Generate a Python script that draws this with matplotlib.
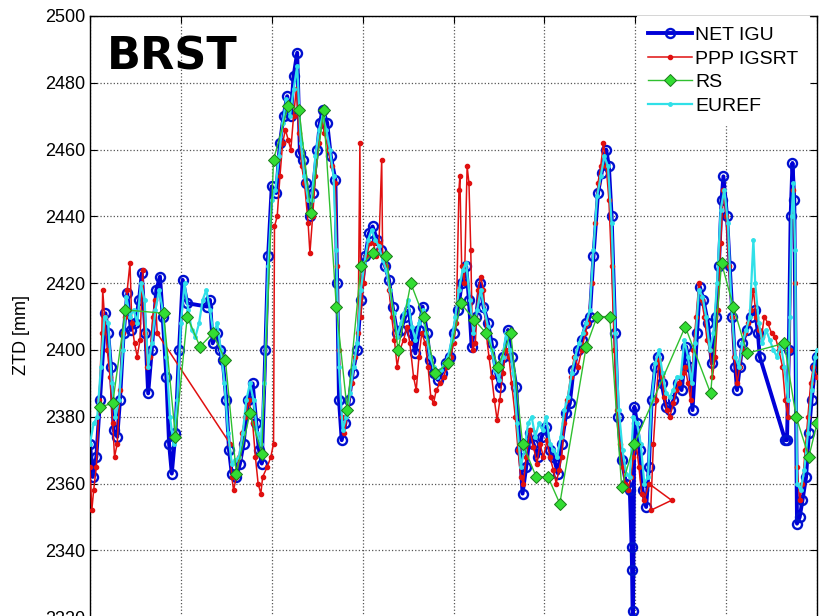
import matplotlib
matplotlib.use("Agg")
import matplotlib.pyplot as plt
import numpy as np

# time in days (x axis), ZTD in mm
net_t = [0.00, 0.03, 0.07, 0.11, 0.17, 0.20, 0.23, 0.26, 0.30, 0.33, 0.37, 0.41, 0.45, 0.50, 0.54,
         0.57, 0.61, 0.64, 0.68, 0.73, 0.77, 0.80, 0.84, 0.87, 0.90, 0.94, 0.98, 1.02, 1.07, 1.29,
         1.32, 1.35, 1.40, 1.43, 1.46, 1.50, 1.53, 1.56, 1.61, 1.65, 1.69, 1.74, 1.79, 1.83, 1.86,
         1.89, 1.93, 1.96, 2.00, 2.05, 2.09, 2.13, 2.17, 2.21, 2.24, 2.28, 2.31, 2.34, 2.38, 2.42,
         2.45, 2.50, 2.53, 2.56, 2.61, 2.65, 2.70, 2.72, 2.74, 2.77, 2.81, 2.85, 2.89, 2.94, 2.98,
         3.03, 3.07, 3.11, 3.16, 3.20, 3.25, 3.29, 3.33, 3.38, 3.42, 3.47, 3.51, 3.54, 3.58, 3.62,
         3.66, 3.71, 3.74, 3.78, 3.83, 3.87, 3.92, 3.96, 4.00, 4.05, 4.09, 4.14, 4.17, 4.20, 4.25,
         4.29, 4.33, 4.38, 4.42, 4.47, 4.51, 4.55, 4.60, 4.64, 4.69, 4.73, 4.76, 4.80, 4.84, 4.88,
         4.93, 4.97, 5.02, 5.06, 5.10, 5.15, 5.19, 5.24, 5.28, 5.32, 5.37, 5.41, 5.46, 5.50, 5.54,
         5.59, 5.63, 5.68, 5.71, 5.74, 5.78, 5.81, 5.85, 5.90, 5.94, 5.96, 5.965, 5.97, 5.975, 5.99,
         6.02, 6.05, 6.08, 6.12, 6.15, 6.18, 6.22, 6.25, 6.29, 6.34, 6.38, 6.42, 6.47, 6.51, 6.56,
         6.60, 6.63, 6.68, 6.71, 6.75, 6.80, 6.84, 6.89, 6.92, 6.95, 6.97, 7.01, 7.04, 7.07, 7.10,
         7.12, 7.15, 7.18, 7.23, 7.27, 7.32, 7.35, 7.37, 7.65, 7.67, 7.69, 7.71, 7.73, 7.75, 7.78,
         7.81, 7.84, 7.88, 7.91, 7.94, 7.98, 8.00]
net_ztd = [2372, 2362, 2368, 2385, 2411, 2405, 2395, 2376, 2374, 2385, 2405, 2417, 2406, 2408, 2415,
           2423, 2405, 2387, 2400, 2418, 2422, 2410, 2392, 2372, 2363, 2375, 2400, 2421, 2414, 2413,
           2415, 2402, 2405, 2400, 2397, 2385, 2370, 2363, 2362, 2366, 2372, 2385, 2390, 2378, 2370,
           2366, 2400, 2428, 2449, 2447, 2462, 2470, 2476, 2470, 2482, 2489, 2459, 2457, 2450, 2440,
           2447, 2460, 2468, 2472, 2468, 2458, 2451, 2420, 2385, 2373, 2378, 2385, 2393, 2400, 2415,
           2428, 2435, 2437, 2433, 2430, 2425, 2421, 2413, 2405, 2406, 2410, 2412, 2405, 2399, 2406,
           2413, 2405, 2397, 2393, 2391, 2393, 2396, 2398, 2405, 2412, 2420, 2425, 2415, 2401, 2410,
           2420, 2413, 2408, 2402, 2393, 2389, 2398, 2406, 2398, 2389, 2370, 2357, 2365, 2375, 2372,
           2368, 2374, 2377, 2370, 2368, 2363, 2372, 2381, 2384, 2394, 2400, 2403, 2408, 2410, 2428,
           2447, 2453, 2460, 2455, 2440, 2405, 2380, 2367, 2360, 2358, 2341, 2334, 2322, 2316, 2383,
           2378, 2370, 2358, 2353, 2365, 2385, 2395, 2398, 2390, 2383, 2382, 2385, 2390, 2388, 2401,
           2395, 2382, 2405, 2419, 2415, 2408, 2396, 2410, 2425, 2445, 2452, 2440, 2425, 2410, 2395,
           2388, 2395, 2402, 2406, 2410, 2412, 2405, 2398, 2373, 2373, 2400, 2440, 2456, 2445, 2348,
           2350, 2355, 2362, 2375, 2385, 2395, 2398]

ppp_t = [0.00, 0.02, 0.04, 0.07, 0.10, 0.13, 0.14, 0.16, 0.19, 0.22, 0.25, 0.27, 0.30, 0.33, 0.36,
         0.39, 0.41, 0.44, 0.46, 0.49, 0.52, 0.55, 0.58, 0.60, 0.63, 0.66, 0.69, 0.72, 0.74, 1.54,
         1.56, 1.58, 1.61, 1.64, 1.67, 1.71, 1.75, 1.79, 1.82, 1.85, 1.88, 1.90, 1.95, 1.99, 2.02,
         2.03, 2.06, 2.09, 2.12, 2.15, 2.18, 2.21, 2.24, 2.27, 2.30, 2.33, 2.36, 2.40, 2.42, 2.45,
         2.48, 2.52, 2.55, 2.58, 2.62, 2.66, 2.70, 2.72, 2.74, 2.77, 2.80, 2.84, 2.88, 2.92, 2.95,
         2.97, 2.98, 3.01, 3.04, 3.08, 3.12, 3.15, 3.18, 3.21, 3.22, 3.26, 3.29, 3.32, 3.35, 3.38,
         3.41, 3.45, 3.49, 3.52, 3.56, 3.59, 3.62, 3.65, 3.69, 3.72, 3.75, 3.78, 3.81, 3.85, 3.89,
         3.93, 3.97, 4.00, 4.03, 4.06, 4.07, 4.09, 4.12, 4.15, 4.17, 4.19, 4.21, 4.24, 4.27, 4.30,
         4.33, 4.36, 4.39, 4.42, 4.45, 4.48, 4.51, 4.54, 4.58, 4.61, 4.64, 4.68, 4.71, 4.74, 4.77,
         4.80, 4.84, 4.88, 4.92, 4.95, 4.99, 5.03, 5.06, 5.10, 5.13, 5.16, 5.19, 5.22, 5.25, 5.29,
         5.33, 5.37, 5.41, 5.45, 5.48, 5.52, 5.56, 5.59, 5.62, 5.65, 5.68, 5.71, 5.74, 5.77, 5.80,
         5.83, 5.86, 5.89, 5.92, 5.95, 5.98, 6.01, 6.04, 6.07, 6.10, 6.15, 6.40, 6.17, 6.20, 6.23,
         6.26, 6.29, 6.32, 6.35, 6.38, 6.42, 6.45, 6.48, 6.52, 6.55, 6.58, 6.61, 6.64, 6.67, 6.70,
         6.73, 6.76, 6.79, 6.82, 6.85, 6.88, 6.91, 6.94, 6.97, 7.00, 7.03, 7.06, 7.09, 7.12, 7.15,
         7.18, 7.21, 7.24, 7.27, 7.30, 7.33, 7.36, 7.39, 7.42, 7.46, 7.50, 7.54, 7.58, 7.62, 7.65,
         7.68, 7.70, 7.72, 7.74, 7.76, 7.78, 7.81, 7.84, 7.87, 7.90, 7.93, 7.96, 8.00]
ppp_ztd = [2365, 2352, 2358, 2365, 2385, 2405, 2418, 2410, 2400, 2392, 2378, 2368, 2372, 2388, 2405,
           2410, 2418, 2426, 2408, 2402, 2398, 2403, 2424, 2405, 2395, 2398, 2410, 2415, 2405, 2372,
           2362, 2358, 2362, 2368, 2375, 2380, 2385, 2378, 2368, 2360, 2357, 2362, 2365, 2368, 2372,
           2437, 2440, 2452, 2462, 2466, 2463, 2460, 2470, 2478, 2465, 2455, 2450, 2438, 2429, 2440,
           2452, 2462, 2468, 2465, 2460, 2455, 2450, 2425, 2400, 2380, 2375, 2382, 2390, 2398, 2405,
           2462, 2410, 2420, 2428, 2432, 2432, 2428, 2432, 2457, 2428, 2425, 2418, 2410, 2403, 2395,
           2400, 2403, 2407, 2402, 2392, 2388, 2398, 2405, 2402, 2395, 2386, 2384, 2388, 2390, 2392,
           2395, 2398, 2402, 2408, 2448, 2452, 2425, 2420, 2455, 2450, 2430, 2400, 2402, 2418, 2422,
           2418, 2405, 2398, 2392, 2385, 2379, 2385, 2393, 2400, 2398, 2390, 2380, 2370, 2362, 2360,
           2368, 2376, 2371, 2366, 2372, 2368, 2373, 2368, 2364, 2360, 2364, 2368, 2378, 2385, 2392,
           2398, 2395, 2400, 2405, 2408, 2420, 2438, 2450, 2455, 2462, 2455, 2445, 2425, 2400, 2382,
           2372, 2365, 2360, 2358, 2362, 2368, 2372, 2365, 2357, 2355, 2360, 2355, 2352, 2372, 2385,
           2397, 2392, 2386, 2382, 2380, 2384, 2388, 2390, 2393, 2395, 2390, 2385, 2400, 2410, 2420,
           2415, 2410, 2403, 2400, 2392, 2398, 2412, 2432, 2448, 2440, 2425, 2410, 2398, 2390, 2395,
           2400, 2405, 2408, 2412, 2418, 2410, 2406, 2404, 2410, 2408, 2405, 2404, 2400, 2395, 2385,
           2380, 2400, 2440, 2448, 2420, 2365, 2355, 2360, 2370, 2380, 2390, 2395, 2392]

rs_t = [0.11, 0.25, 0.39, 0.81, 0.94, 1.07, 1.21, 1.35, 1.49, 1.61, 1.76, 1.89, 2.02, 2.18, 2.30,
        2.43, 2.57, 2.71, 2.83, 2.98, 3.11, 3.26, 3.39, 3.53, 3.67, 3.80, 3.94, 4.08, 4.23, 4.36,
        4.49, 4.63, 4.76, 4.91, 5.04, 5.17, 5.46, 5.58, 5.72, 5.85, 5.99, 6.55, 6.83, 6.95, 7.08,
        7.23, 7.64, 7.77, 7.91, 8.00]
rs_ztd = [2383, 2384, 2412, 2411, 2374, 2410, 2401, 2405, 2397, 2363, 2381, 2369, 2457, 2473, 2472,
          2441, 2472, 2413, 2382, 2425, 2429, 2428, 2400, 2420, 2410, 2393, 2396, 2414, 2409, 2405,
          2395, 2405, 2372, 2362, 2362, 2354, 2401, 2410, 2410, 2359, 2372, 2407, 2387, 2426, 2413,
          2399, 2402, 2380, 2368, 2378]

euref_t = [0.00, 0.04, 0.08, 0.12, 0.16, 0.20, 0.24, 0.28, 0.32, 0.36, 0.40, 0.44, 0.48, 0.52, 0.56,
           0.60, 0.64, 0.68, 0.72, 0.76, 0.80, 0.84, 0.88, 0.92, 0.96, 1.00, 1.04, 1.08, 1.12, 1.16,
           1.20, 1.24, 1.28, 1.32, 1.36, 1.40, 1.44, 1.48, 1.52, 1.56, 1.60, 1.64, 1.68, 1.72, 1.76,
           1.80, 1.84, 1.88, 1.92, 1.96, 2.00, 2.04, 2.08, 2.12, 2.16, 2.20, 2.24, 2.28, 2.32, 2.36,
           2.40, 2.44, 2.48, 2.52, 2.56, 2.60, 2.64, 2.68, 2.71, 2.74, 2.78, 2.82, 2.86, 2.90, 2.94,
           2.98, 3.02, 3.06, 3.10, 3.14, 3.18, 3.22, 3.26, 3.30, 3.34, 3.38, 3.42, 3.46, 3.50, 3.54,
           3.58, 3.62, 3.66, 3.70, 3.74, 3.78, 3.82, 3.86, 3.90, 3.94, 3.98, 4.02, 4.06, 4.10, 4.14,
           4.18, 4.22, 4.26, 4.30, 4.34, 4.38, 4.42, 4.46, 4.50, 4.54, 4.58, 4.62, 4.66, 4.70, 4.74,
           4.78, 4.82, 4.86, 4.90, 4.94, 4.98, 5.02, 5.06, 5.10, 5.14, 5.18, 5.22, 5.26, 5.30, 5.34,
           5.38, 5.42, 5.46, 5.50, 5.54, 5.58, 5.62, 5.66, 5.70, 5.74, 5.78, 5.82, 5.86, 5.90, 5.94,
           5.98, 6.02, 6.06, 6.10, 6.14, 6.18, 6.22, 6.26, 6.30, 6.34, 6.38, 6.42, 6.46, 6.50, 6.54,
           6.58, 6.62, 6.66, 6.70, 6.74, 6.78, 6.82, 6.86, 6.90, 6.94, 6.98, 7.02, 7.06, 7.10, 7.14,
           7.18, 7.22, 7.26, 7.30, 7.32, 7.36, 7.40, 7.44, 7.48, 7.52, 7.56, 7.60, 7.64, 7.68, 7.70,
           7.72, 7.74, 7.76, 7.78, 7.82, 7.86, 7.90, 7.94, 7.98, 8.00]
euref_ztd = [2372, 2378, 2380, 2395, 2410, 2408, 2390, 2380, 2385, 2400, 2416, 2410, 2412, 2408, 2420,
             2415, 2395, 2402, 2412, 2418, 2412, 2398, 2380, 2372, 2385, 2408, 2420, 2412, 2406, 2404,
             2408, 2415, 2418, 2412, 2405, 2408, 2400, 2390, 2375, 2366, 2367, 2368, 2375, 2385, 2390,
             2385, 2375, 2372, 2390, 2425, 2445, 2448, 2458, 2468, 2475, 2470, 2478, 2485, 2462, 2452,
             2445, 2445, 2458, 2466, 2470, 2466, 2460, 2452, 2430, 2395, 2376, 2380, 2387, 2395, 2402,
             2418, 2426, 2433, 2436, 2433, 2431, 2427, 2424, 2418, 2411, 2404, 2408, 2411, 2415, 2407,
             2403, 2408, 2412, 2405, 2398, 2395, 2392, 2394, 2396, 2398, 2403, 2410, 2418, 2424, 2426,
             2415, 2405, 2412, 2418, 2412, 2407, 2400, 2394, 2391, 2398, 2405, 2400, 2393, 2378, 2365,
             2370, 2378, 2380, 2374, 2378, 2376, 2380, 2372, 2370, 2368, 2374, 2382, 2386, 2393, 2398,
             2402, 2405, 2408, 2412, 2430, 2446, 2452, 2458, 2455, 2438, 2405, 2382, 2370, 2363, 2362,
             2380, 2378, 2372, 2360, 2362, 2385, 2396, 2400, 2393, 2387, 2386, 2388, 2392, 2392, 2403,
             2398, 2390, 2402, 2418, 2416, 2410, 2400, 2405, 2420, 2442, 2448, 2438, 2412, 2398, 2395,
             2402, 2406, 2410, 2433, 2420, 2408, 2402, 2406, 2403, 2400, 2398, 2402, 2395, 2385, 2410,
             2440, 2450, 2430, 2360, 2358, 2364, 2375, 2388, 2398, 2400]

yticks = np.arange(2300, 2501, 20)

fig = plt.figure(figsize=(8.19, 6.16), dpi=100)
# original figure was cropped: axes runs 2300-2500, bottom part lies outside the picture
ax = fig.add_axes([90 / 819, -68 / 616, 727 / 819, 668 / 616])

h1, = ax.plot(net_t, net_ztd, color='#0000d8', lw=2.8, marker='o', ms=6.5, mfc='none',
              mec='#0010d0', mew=1.7, zorder=2)
h2, = ax.plot(ppp_t, ppp_ztd, color='#e01010', lw=1.1, marker='.', ms=6, zorder=3)
h4, = ax.plot(euref_t, euref_ztd, color='#30e0e8', lw=1.6, marker='.', ms=5, zorder=4)
h3, = ax.plot(rs_t, rs_ztd, color='#30c030', lw=1.0, marker='D', ms=6.5, mfc='#33dd33',
              mec='#1a7a1a', mew=0.7, zorder=5)

ax.set_xlim(0, 8)
ax.set_ylim(2300, 2500)
ax.set_xticks(np.arange(0, 9, 1))
ax.set_yticks(yticks)
ax.set_xticklabels([])
ax.grid(True, linestyle=':', color='#555555', lw=0.9)
ax.tick_params(direction='in', length=5, top=True, right=True, width=0.8)
for lab in ax.get_yticklabels():
    lab.set_fontfamily('Liberation Sans')
    lab.set_fontsize(13)
for s in ax.spines.values():
    s.set_linewidth(1.0)

fig.text(22 / 819, (616 - 335) / 616, 'ZTD [mm]', rotation=90, ha='center', va='center',
         fontsize=13, family='Liberation Sans')
fig.text(107 / 819, (616 - 70) / 616, 'BRST', fontsize=32, fontweight='bold',
         family='DejaVu Sans', ha='left', va='baseline')

leg = ax.legend([h1, h2, h3, h4], ['NET IGU', 'PPP IGSRT', 'RS', 'EUREF'],
                loc='upper left', bbox_to_anchor=(637 / 819, 1 - 16 / 616),
                bbox_transform=fig.transFigure, borderaxespad=0, frameon=True,
                fancybox=False, framealpha=1, edgecolor='white', facecolor='white',
                prop={'family': 'Liberation Sans', 'size': 14}, handlelength=2.3,
                handletextpad=0.15, labelspacing=0.3, borderpad=0.55)
leg.set_zorder(10)

fig.savefig('out.png', dpi=100)
